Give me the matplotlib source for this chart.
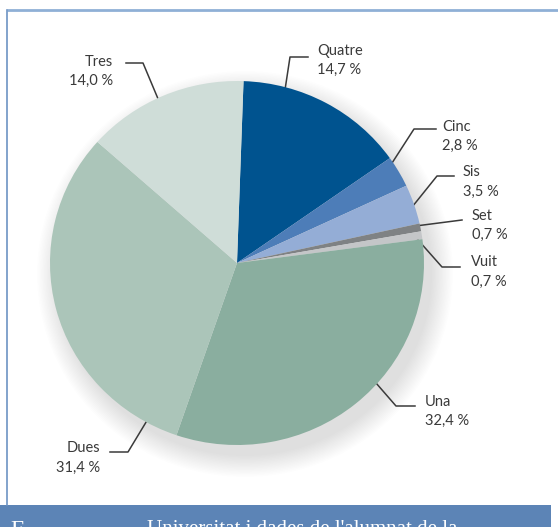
import numpy as np
import matplotlib
matplotlib.use("Agg")
import matplotlib.pyplot as plt
from matplotlib.patches import Ellipse, Rectangle

# data
labels = ["Quatre", "Cinc", "Sis", "Set", "Vuit", "Una", "Dues", "Tres"]
values = [14.7, 2.8, 3.5, 0.7, 0.7, 32.4, 31.4, 14.0]
pct_text = ["14,7 %", "2,8 %", "3,5 %", "0,7 %", "0,7 %", "32,4 %", "31,4 %", "14,0 %"]
colors = ["#00538f", "#4d7db8", "#94add6", "#7f8284", "#c4c6c8",
          "#8aae9f", "#abc5b9", "#cfddd8"]

# layout (pixels, y down): text x, name y, pct y, align, line end, elbow, anchor frac
label_layout = {
    "Quatre": (317, 51, 70, "left", (308, 57), (290, 57), 0.75),
    "Cinc": (442, 127, 146, "left", (436, 129), (414, 129), 0.77),
    "Sis": (463, 172, 192, "left", (454, 176), (437, 176), 0.40),
    "Set": (472, 216, 235, "left", (462, 220), (462, 220), 0.80),
    "Vuit": (471, 262, 282, "left", (460, 267), (442, 267), 0.20),
    "Una": (425, 402, 421, "left", (415, 406), (396, 406), 0.58),
    "Dues": (100, 448, 468, "right", (110, 452), (128, 452), 0.91),
    "Tres": (113, 62, 81, "right", (126, 63), (143, 63), 0.54),
}

W, H = 558, 527
cx, cy = 237, 263
rx, ry = 187, 182

fig = plt.figure(figsize=(W / 100, H / 100), dpi=100)
fig.patch.set_facecolor("white")

ax = fig.add_axes([0, 0, 1, 1])
ax.set_xlim(0, W)
ax.set_ylim(H, 0)
ax.axis("off")

# frame and bottom band
ax.plot([7, W], [9.5, 9.5], color="#8fb0d6", lw=2, solid_capstyle="butt")
ax.plot([7, 7], [9.5, 505], color="#6d93c4", lw=1.2)
ax.add_patch(Rectangle((0, 505), 551, 30, facecolor="#5c84b6", edgecolor="none"))

# soft shadow
for i in range(16):
    ax.add_patch(Ellipse((cx + 8, cy + 11), 2 * (rx + i * 1.4), 2 * (ry + i * 1.4),
                         facecolor="#000000", edgecolor="none", alpha=0.007, zorder=1))

# pie axes
pax = fig.add_axes([(cx - rx) / W, 1 - (cy + ry) / H, 2 * rx / W, 2 * ry / H])
wedges, _ = pax.pie(values, colors=colors, startangle=88, counterclock=False,
                    radius=1, wedgeprops=dict(linewidth=0))
pax.set_xlim(-1, 1)
pax.set_ylim(-1, 1)
pax.set_aspect("auto")
pax.axis("off")

ink = "#3a3a3a"
for lab, pct, w in zip(labels, pct_text, wedges):
    tx, ny, py, ha, end, elbow, frac = label_layout[lab]
    ang = np.deg2rad(w.theta1 + frac * (w.theta2 - w.theta1))
    axp = cx + rx * 0.97 * np.cos(ang)
    ayp = cy - ry * 0.97 * np.sin(ang)
    ax.plot([end[0], elbow[0], axp], [end[1], elbow[1], ayp], color=ink, lw=1.1, zorder=5)
    ax.text(tx, ny, lab, ha=ha, va="center", fontsize=10.5, color=ink, family="Lato")
    ax.text(tx, py, pct, ha=ha, va="center", fontsize=10.5, color=ink, family="Lato")

# source line, cut off at the bottom edge as in the original
ax.text(10, 520, "F", ha="left", va="top", fontsize=17, color="white", family="Liberation Serif")
ax.text(147, 520, "Universitat i dades de l'alumnat de la ...", ha="left", va="top",
        fontsize=15, color="white", family="Liberation Serif")

fig.savefig("out.png", dpi=100)
